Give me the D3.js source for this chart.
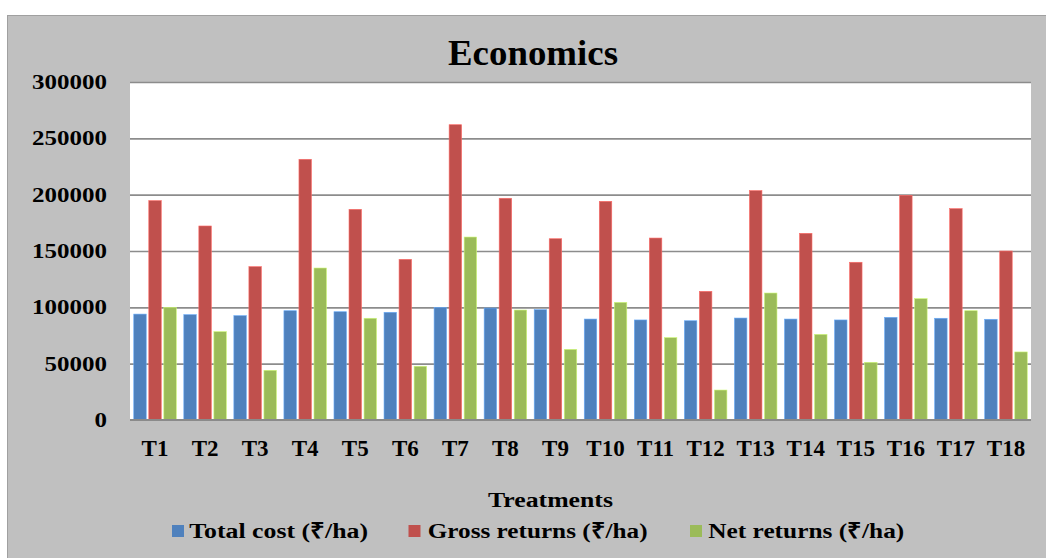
<!DOCTYPE html>
<html>
<head>
<meta charset="utf-8">
<script src="https://cdn.jsdelivr.net/npm/d3@7"></script>
<style>
  html, body { margin: 0; padding: 0; background: #ffffff; }
  svg { display: block; }
  text { font-family: "Liberation Serif", "Times New Roman", serif; font-weight: bold; fill: #000; }
</style>
</head>
<body>
<svg id="chart" width="1046" height="558"></svg>
<script>
const categories = ["T1","T2","T3","T4","T5","T6","T7","T8","T9","T10","T11","T12","T13","T14","T15","T16","T17","T18"];
const totalCost    = [94000, 93500, 92600, 97000, 96100, 95600, 100000, 99400, 97900, 89600, 88800, 88100, 90500, 89600, 88800, 91100, 90300, 89400];
const grossReturns = [194700, 172200, 136100, 231400, 187000, 142600, 262100, 196800, 160900, 194100, 161500, 114200, 203600, 165700, 140000, 199400, 187600, 150000];
const netReturns   = [100000, 78400, 44100, 134900, 90300, 47700, 162400, 97600, 62700, 104400, 73100, 26600, 112700, 76000, 51200, 107700, 97000, 60400];
const seriesNames  = ["Total cost (₹/ha)", "Gross returns (₹/ha)", "Net returns (₹/ha)"];
const seriesColors = ["#4f81bd", "#c0504d", "#9bbb59"];
const yTicks       = [0, 50000, 100000, 150000, 200000, 250000, 300000];
const titleText    = "Economics";
const xAxisTitle   = "Treatments";

const seriesValues = [totalCost, grossReturns, netReturns];
const svg = d3.select("#chart");

// outer chart area
svg.append("rect").attr("x", 7.5).attr("y", 15.5).attr("width", 1046).attr("height", 560)
  .attr("fill", "#c0c0c0").attr("stroke", "#a0a0a0").attr("stroke-width", 1);

const plot = { left: 130, right: 1031, top: 82, bottom: 420 };
svg.append("rect").attr("x", plot.left).attr("y", plot.top)
  .attr("width", plot.right - plot.left).attr("height", plot.bottom - plot.top).attr("fill", "#ffffff");

const x0 = d3.scaleBand().domain(categories).range([plot.left, plot.right])
  .paddingInner(0.15).paddingOuter(0.075);
const x1 = d3.scaleBand().domain(d3.range(3)).range([0, x0.bandwidth()])
  .paddingInner(0.17).paddingOuter(0);
const y = d3.scaleLinear().domain([0, 300000]).range([plot.bottom, plot.top]);

// gridlines via axis
const grid = svg.append("g").attr("transform", `translate(${plot.left},0)`)
  .call(d3.axisLeft(y).tickValues(yTicks.filter(v => v > 0)).tickSize(-(plot.right - plot.left)).tickFormat(""));
grid.select(".domain").remove();
grid.selectAll(".tick line").attr("stroke", "#8c8c8c").attr("stroke-width", 1.6);

// bars
const groups = svg.append("g").selectAll("g").data(categories).join("g")
  .attr("transform", d => `translate(${x0(d)},0)`);
groups.selectAll("rect").data((d, i) => seriesValues.map((s, k) => ({ k, v: s[i] }))).join("rect")
  .attr("x", d => x1(d.k))
  .attr("width", x1.bandwidth())
  .attr("y", d => y(d.v))
  .attr("height", d => y(0) - y(d.v))
  .attr("fill", d => seriesColors[d.k])
  .attr("stroke", d => d3.color(seriesColors[d.k]).brighter(0.8))
  .attr("stroke-width", 0.6);

// zero axis line
svg.append("line").attr("x1", plot.left).attr("x2", plot.right)
  .attr("y1", y(0)).attr("y2", y(0)).attr("stroke", "#8a8a8a").attr("stroke-width", 2);

// y axis labels
const yAxis = svg.append("g").attr("transform", `translate(107,0)`)
  .call(d3.axisLeft(y).tickValues(yTicks).tickSize(0).tickPadding(0).tickFormat(d3.format("d")));
yAxis.select(".domain").remove();
yAxis.selectAll(".tick text")
  .attr("font-size", 21).attr("font-family", "Liberation Serif").attr("font-weight", "bold")
  .attr("fill", "#000").attr("x", 0).attr("dy", "6.5").attr("text-anchor", "end")
  .attr("transform", "scale(1.19,1)");

// x axis labels
const xAxis = svg.append("g").attr("transform", `translate(0,${plot.bottom})`)
  .call(d3.axisBottom(x0).tickSize(0).tickPadding(0));
xAxis.select(".domain").remove();
xAxis.selectAll(".tick text")
  .attr("font-size", 23).attr("font-family", "Liberation Serif").attr("font-weight", "bold")
  .attr("fill", "#000").attr("y", 36).attr("dy", 0);

function fitText(sel, width, anchor) {
  const w = sel.node().getComputedTextLength();
  const s = width / w;
  const xx = +sel.attr("x"), yy = +sel.attr("y");
  sel.attr("x", 0).attr("y", 0).attr("transform", `translate(${xx},${yy}) scale(${s},1)`);
}

// title
const t = svg.append("text").attr("x", 533).attr("y", 65).attr("text-anchor", "middle")
  .attr("font-size", 35).text(titleText);
fitText(t, 170);

// x axis title
const xt = svg.append("text").attr("x", 550.5).attr("y", 506.7).attr("text-anchor", "middle")
  .attr("font-size", 21).text(xAxisTitle);
fitText(xt, 125);

// legend
const legendItems = [
  { sx: 172, tx: 189.3, w: 179 },
  { sx: 408.5, tx: 427.7, w: 220 },
  { sx: 690, tx: 708.3, w: 196 }
];
legendItems.forEach((it, k) => {
  svg.append("rect").attr("x", it.sx).attr("y", 525).attr("width", 12).attr("height", 12)
    .attr("fill", seriesColors[k]);
  const lt = svg.append("text").attr("x", it.tx).attr("y", 538.3).attr("font-size", 22).text(seriesNames[k]);
  fitText(lt, it.w);
});
</script>
</body>
</html>
